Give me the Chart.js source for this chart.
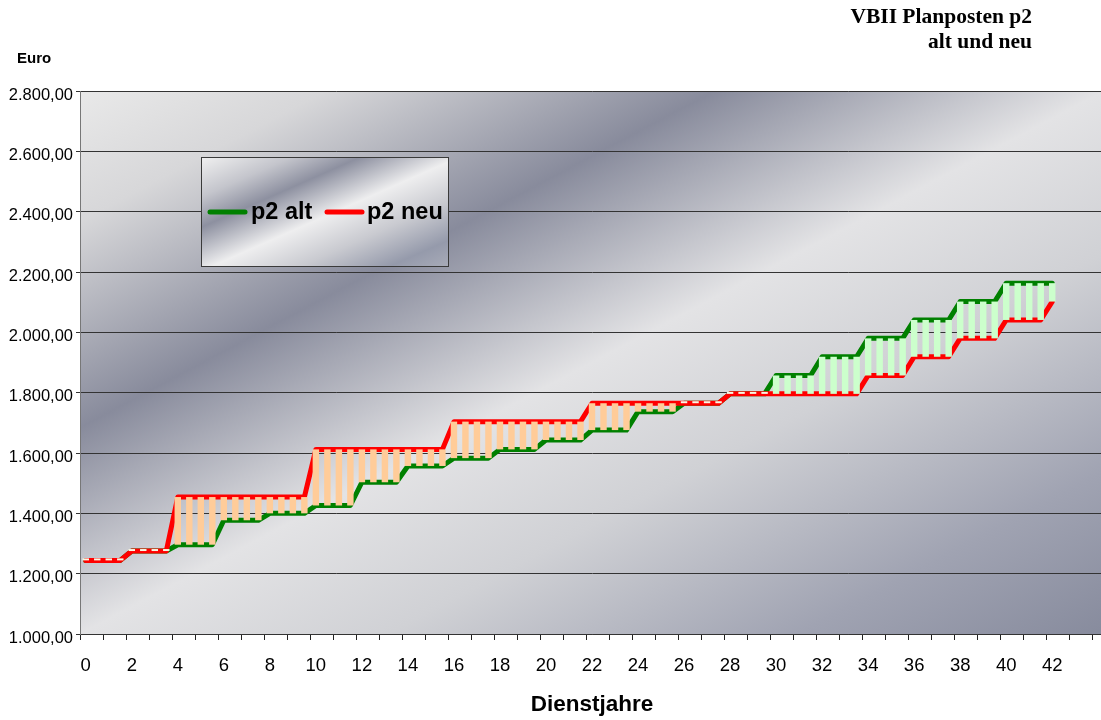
<!DOCTYPE html>
<html>
<head>
<meta charset="utf-8">
<title>VBII Planposten p2 alt und neu</title>
<script src="https://cdn.jsdelivr.net/npm/chart.js@4/dist/chart.umd.min.js"></script>
<style>
  html, body { margin: 0; padding: 0; background: #ffffff; overflow: hidden; }
  #wrap { width: 1104px; height: 720px; }
</style>
</head>
<body>
<div id="wrap"><canvas id="chart" width="1104" height="720"></canvas></div>
<script>
// Monthly pay (Euro) per half year of service, 0 … 42 Dienstjahre.
// One row = one two-year step (4 half years).
const p2Alt = [
  1244, 1244, 1244, 1244,   // 0
  1275, 1275, 1275, 1275,   // 2
  1296, 1296, 1296, 1296,   // 4
  1377, 1377, 1377, 1377,   // 6
  1400, 1400, 1400, 1400,   // 8
  1426, 1426, 1426, 1426,   // 10
  1503, 1503, 1503, 1503,   // 12
  1557, 1557, 1557, 1557,   // 14
  1583, 1583, 1583, 1583,   // 16
  1612, 1612, 1612, 1612,   // 18
  1643, 1643, 1643, 1643,   // 20
  1676, 1676, 1676, 1676,   // 22
  1737, 1737, 1737, 1737,   // 24
  1765, 1765, 1765, 1765,   // 26
  1796, 1796, 1796, 1796,   // 28
  1857, 1857, 1857, 1857,   // 30
  1919, 1919, 1919, 1919,   // 32
  1980, 1980, 1980, 1980,   // 34
  2041, 2041, 2041, 2041,   // 36
  2102, 2102, 2102, 2102,   // 38
  2163, 2163, 2163, 2163,   // 40
  2163                      // 42
];

const p2Neu = [
  1244, 1244, 1244, 1244,   // 0
  1275, 1275, 1275, 1275,   // 2
  1454, 1454, 1454, 1454,   // 4
  1454, 1454, 1454, 1454,   // 6
  1454, 1454, 1454, 1454,   // 8
  1612, 1612, 1612, 1612,   // 10
  1612, 1612, 1612, 1612,   // 12
  1612, 1612, 1612, 1612,   // 14
  1704, 1704, 1704, 1704,   // 16
  1704, 1704, 1704, 1704,   // 18
  1704, 1704, 1704, 1704,   // 20
  1765, 1765, 1765, 1765,   // 22
  1765, 1765, 1765, 1765,   // 24
  1765, 1765, 1765, 1765,   // 26
  1796, 1796, 1796, 1796,   // 28
  1796, 1796, 1796, 1796,   // 30
  1796, 1796, 1796, 1796,   // 32
  1857, 1857, 1857, 1857,   // 34
  1919, 1919, 1919, 1919,   // 36
  1980, 1980, 1980, 1980,   // 38
  2041, 2041, 2041, 2041,   // 40
  2102                      // 42
];

// Category axis: half years 0 … 44, a label every two years up to 42.
const halfYears = [];
for (let i = 0; i <= 88; i++) halfYears.push(i / 2);
const yearLabels = [0, 2, 4, 6, 8, 10, 12, 14, 16, 18, 20, 22, 24, 26, 28, 30, 32, 34, 36, 38, 40, 42];

const yTicks = { min: 1000, max: 2800, step: 200 };

const seriesNames = ['p2 alt', 'p2 neu'];
const seriesColors = ['#008000', '#ff0000'];
const upColor = '#ffcc99';     // neu above alt
const downColor = '#ccffcc';   // alt above neu
const evenColor = '#f8f8e4';   // both equal

const SANS = '"Liberation Sans", Arial, sans-serif';
const SERIF = '"Liberation Serif", "Times New Roman", serif';

function fmtEuro(v) {
  const s = Math.round(v).toString().replace(/\B(?=(\d{3})+(?!\d))/g, '.');
  return s + ',00';
}

// Brushed-metal style fill in a rectangle, bands running along the anti-diagonal
function chromeFill(ctx, x, y, w, h, stops) {
  ctx.save();
  ctx.translate(x, y);
  ctx.scale(w, h);
  const g = ctx.createLinearGradient(0, 0, 1, 1);
  stops.forEach(s => g.addColorStop(s[0], s[1]));
  ctx.fillStyle = g;
  ctx.fillRect(0, 0, 1, 1);
  ctx.restore();
}

const plotStops = [
  [0.00, '#e9e9e9'],
  [0.12, '#d7d7d9'],
  [0.31, '#888b9c'],
  [0.50, '#e3e3e5'],
  [0.65, '#d0d1d5'],
  [0.85, '#a0a3b2'],
  [1.00, '#878b9d']
];

const legendStops = [
  [0.00, '#f0f0f0'],
  [0.18, '#c4c5cc'],
  [0.32, '#8d90a0'],
  [0.52, '#eeeeef'],
  [0.70, '#c9cad0'],
  [0.88, '#959aab'],
  [1.00, '#a8abb8']
];

const backgroundPlugin = {
  id: 'plotBackground',
  beforeDraw(chart) {
    const { ctx, chartArea: a } = chart;
    ctx.save();
    ctx.fillStyle = '#ffffff';
    ctx.fillRect(0, 0, chart.width, chart.height);
    ctx.restore();
    chromeFill(ctx, a.left, a.top, a.right - a.left, a.bottom - a.top, plotStops);
  }
};

const decorPlugin = {
  id: 'decor',
  afterDraw(chart) {
    const ctx = chart.ctx;
    ctx.save();

    // Heading, top right
    ctx.fillStyle = '#000';
    ctx.font = 'bold 21.5px ' + SERIF;
    ctx.textAlign = 'right';
    ctx.textBaseline = 'alphabetic';
    ctx.fillText('VBII Planposten p2', 1032, 23);
    ctx.fillText('alt und neu', 1032, 48);

    // Unit above the value axis
    ctx.font = 'bold 15px ' + SANS;
    ctx.textAlign = 'left';
    ctx.textBaseline = 'middle';
    ctx.fillText('Euro', 17, 59);

    // Legend box
    const bx = 201.5, by = 157.5, bw = 247, bh = 109;
    chromeFill(ctx, bx, by, bw, bh, legendStops);
    ctx.strokeStyle = '#3a3a3a';
    ctx.lineWidth = 1;
    ctx.strokeRect(bx, by, bw, bh);

    const ly = 212;
    const items = [
      { x0: 210, x1: 245, tx: 251 },
      { x0: 327, x1: 362, tx: 367 }
    ];
    items.forEach((it, i) => {
      ctx.beginPath();
      ctx.lineCap = 'round';
      ctx.lineWidth = 5;
      ctx.strokeStyle = seriesColors[i];
      ctx.moveTo(it.x0, ly);
      ctx.lineTo(it.x1, ly);
      ctx.stroke();
      ctx.fillStyle = '#000';
      ctx.font = 'bold 23.5px ' + SANS;
      ctx.textAlign = 'left';
      ctx.textBaseline = 'middle';
      ctx.fillText(seriesNames[i], it.tx, ly + 1);
    });

    ctx.restore();
  }
};

const spanBars = p2Alt.map((a, i) => [a, p2Neu[i]]);

function barColor(ctx) {
  const i = ctx.dataIndex;
  if (p2Neu[i] > p2Alt[i]) return upColor;
  if (p2Neu[i] < p2Alt[i]) return downColor;
  return evenColor;
}

new Chart(document.getElementById('chart'), {
  data: {
    labels: halfYears,
    datasets: [
      {
        type: 'bar',
        label: 'Differenz',
        data: spanBars,
        backgroundColor: barColor,
        borderWidth: 0,
        minBarLength: 2,
        categoryPercentage: 1,
        barPercentage: 0.56,
        order: 0
      },
      {
        type: 'line',
        label: seriesNames[1],
        data: p2Neu,
        borderColor: seriesColors[1],
        borderWidth: 5,
        borderJoinStyle: 'round',
        borderCapStyle: 'round',
        pointRadius: 0,
        tension: 0,
        fill: false,
        order: 1
      },
      {
        type: 'line',
        label: seriesNames[0],
        data: p2Alt,
        borderColor: seriesColors[0],
        borderWidth: 5,
        borderJoinStyle: 'round',
        borderCapStyle: 'round',
        pointRadius: 0,
        tension: 0,
        fill: false,
        order: 2
      }
    ]
  },
  options: {
    responsive: false,
    devicePixelRatio: 1,
    animation: false,
    layout: { padding: { top: 91, right: 0, bottom: 0, left: 0 } },
    plugins: {
      legend: { display: false },
      tooltip: { enabled: false },
      title: { display: false }
    },
    scales: {
      x: {
        type: 'category',
        offset: true,
        grid: {
          offset: true,
          drawOnChartArea: false,
          drawTicks: true,
          tickLength: 6,
          color: (c) => (c.index % 2 === 0 ? '#222' : 'rgba(0,0,0,0)')
        },
        border: { display: true, color: '#333', width: 1 },
        ticks: {
          autoSkip: false,
          maxRotation: 0,
          minRotation: 0,
          padding: 15,
          color: '#000',
          font: { family: SANS, size: 18.5 },
          callback: function (value, index) {
            const yr = halfYears[index];
            return yearLabels.includes(yr) ? String(yr) : '';
          }
        },
        title: {
          display: true,
          text: 'Dienstjahre',
          color: '#000',
          font: { family: SANS, size: 22.5, weight: 'bold' },
          padding: { top: 0, bottom: 2 }
        },
        afterFit: (scale) => { scale.height = 86; scale.paddingLeft = 0; scale.paddingRight = 0; }
      },
      y: {
        type: 'linear',
        min: yTicks.min,
        max: yTicks.max,
        grid: {
          color: '#333',
          lineWidth: 1,
          drawTicks: true,
          tickLength: 4
        },
        border: { display: true, color: '#777', width: 1 },
        ticks: {
          stepSize: yTicks.step,
          padding: 3,
          labelOffset: 4,
          color: '#000',
          font: { family: SANS, size: 16.5 },
          callback: (v) => fmtEuro(v)
        },
        afterFit: (scale) => { scale.width = 80; scale.paddingTop = 0; scale.paddingBottom = 0; }
      }
    }
  },
  plugins: [backgroundPlugin, decorPlugin]
});
</script>
</body>
</html>
